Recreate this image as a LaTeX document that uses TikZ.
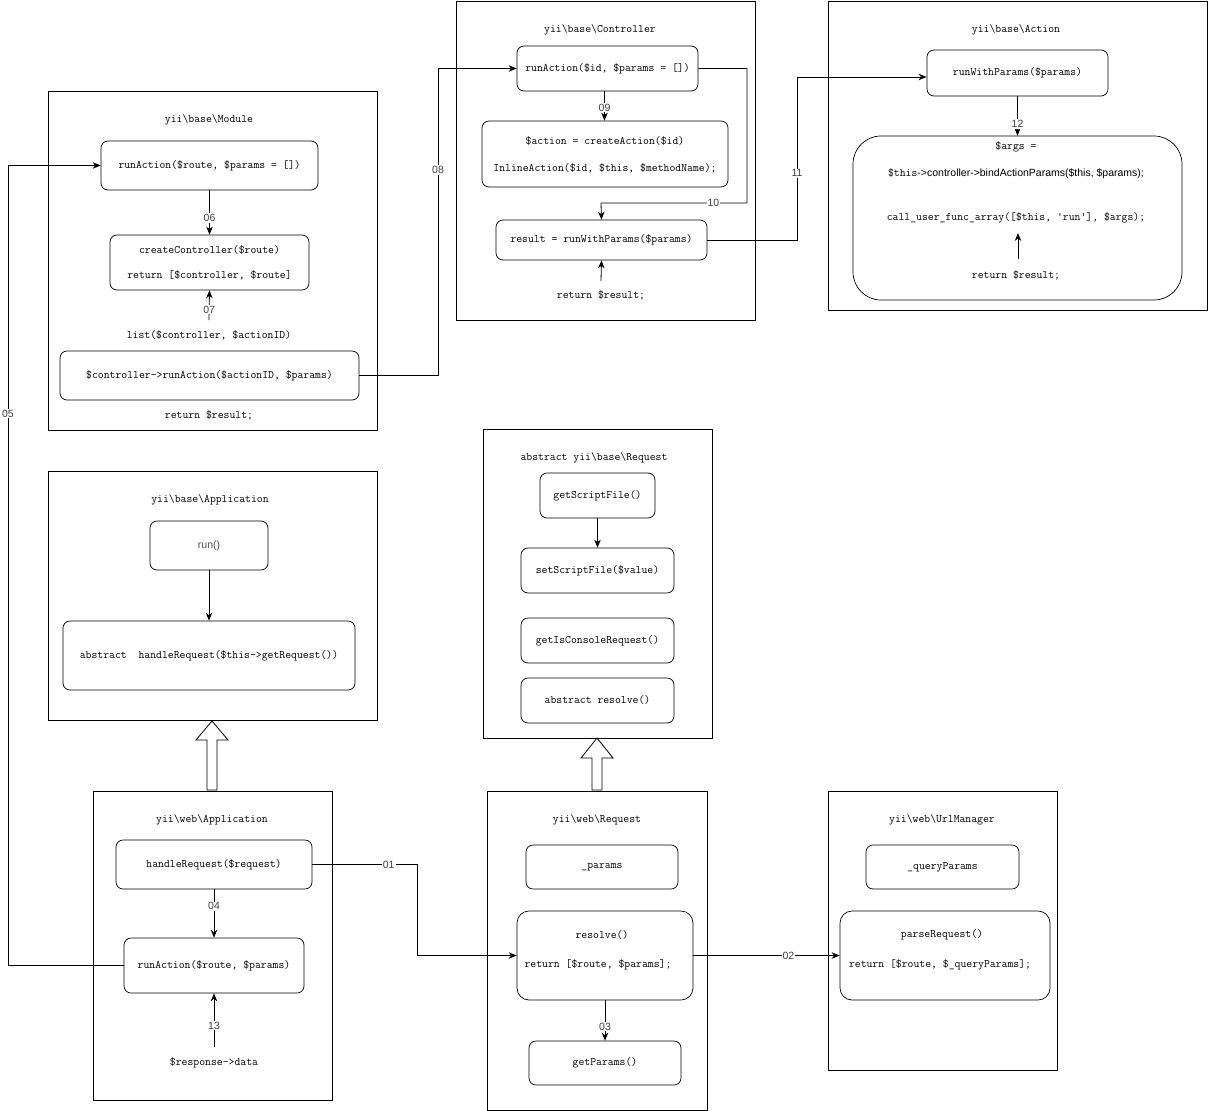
\documentclass[tikz,border=0pt]{standalone}
\usepackage{fontspec}
\setsansfont{Liberation Sans}
\usetikzlibrary{arrows.meta}
\newcommand{\bs}{\textbackslash}
\begin{document}
\begin{tikzpicture}[x=1pt,y=-1pt,
  container/.style={draw, line width=0.8pt},
  mbox/.style={draw, line width=0.7pt, rounded corners=7pt, inner sep=0pt, font=\ttfamily\fontsize{11.4}{13}\selectfont},
  txt/.style={inner sep=0pt, font=\ttfamily\fontsize{11.4}{13}\selectfont},
  sftxt/.style={inner sep=0pt, font=\sffamily\fontsize{10.5}{12}\selectfont, text=black!80},
  lbl/.style={fill=white, inner sep=1pt, font=\sffamily\fontsize{10.5}{12}\selectfont, text=black!75},
  arr/.style={-{Stealth[length=8pt,width=6.5pt]}, line width=0.8pt},
  conn/.style={line width=0.8pt},
  inherit/.style={draw, line width=0.8pt, fill=white}]
\useasboundingbox (0,0) rectangle (1208,1111);

% ===== containers =====
\draw[container] (48,91) rectangle (377,430);
\draw[container] (456,1) rectangle (755,320);
\draw[container] (828,1) rectangle (1207,310);
\draw[container] (48,471) rectangle (377,720);
\draw[container] (483,429) rectangle (712,738);
\draw[container] (93,791) rectangle (332,1100);
\draw[container] (487,791) rectangle (707,1110);
\draw[container] (828,791) rectangle (1057,1070);

% ===== yii\base\Module =====
\node[txt] (mTitle) at (209,120) {yii\bs base\bs Module};
\node[mbox, minimum width=217pt, minimum height=49pt] (mRun) at (209.5,165.5) {runAction(\$route, \$params = [])};
\node[mbox, minimum width=199pt, minimum height=55pt] (mCreate) at (209.5,262.5) {};
\node[txt] (mCreateA) at (209.5,250) {createController(\$route)};
\node[txt] (mCreateB) at (209.5,275) {return [\$controller, \$route]};
\node[txt] (mList) at (209,335) {list(\$controller, \$actionID)};
\coordinate (mListTop) at (209,320);
\node[mbox, minimum width=299pt, minimum height=49pt] (mCtrl) at (209.5,375.5) {\$controller->runAction(\$actionID, \$params)};
\node[txt] (mRet) at (209,415) {return \$result;};

\draw[arr] (mRun.south) -- node[lbl, pos=0.62] {06} (mCreate.north);
\draw[arr] (mListTop) -- node[lbl, pos=0.35] {07} (mCreate.south);

% ===== yii\base\Controller =====
\node[txt] (cTitle) at (600,30) {yii\bs base\bs Controller};
\node[mbox, minimum width=181pt, minimum height=45pt] (cRun) at (607.5,68.5) {runAction(\$id, \$params = [])};
\node[mbox, minimum width=246pt, minimum height=66pt] (cAction) at (605,154) {};
\node[txt] (cActionA) at (605,141) {\$action = createAction(\$id)};
\node[txt] (cActionB) at (605,168) {InlineAction(\$id, \$this, \$methodName);};
\node[mbox, minimum width=211pt, minimum height=40pt] (cResult) at (601.5,240) {result = runWithParams(\$params)};
\node[txt] (cRet) at (601,295) {return \$result;};
\coordinate (cRetTop) at (601,281);

\draw[arr] ([xshift=-3pt]cRun.south) -- node[lbl, pos=0.55] {09} ([xshift=-3pt]cRun.south |- cAction.north);
\coordinate (c10a) at (747,68.5);
\coordinate (c10b) at (747,203);
\coordinate (c10c) at (601,203);
\draw[arr] (cRun.east) -- (c10a) -- (c10b) -- node[lbl, pos=0.23] {10} (c10c) -- (cResult.north);
\draw[arr] (cRetTop) -- (cResult.south);

% ===== yii\base\Action =====
\node[txt] (aTitle) at (1016,30) {yii\bs base\bs Action};
\node[mbox, minimum width=181pt, minimum height=46pt] (aRun) at (1017.5,73) {runWithParams(\$params)};
\node[mbox, rounded corners=28pt, minimum width=329pt, minimum height=164pt] (aArgs) at (1017.5,218) {};
\node[txt] (aArgsA) at (1016,147) {\$args =};
\node[txt] (aArgsB) at (1016,174) {\$this\textsf{\fontsize{10.5}{12}\selectfont ->controller->bindActionParams(\$this, \$params);}};
\node[txt] (aArgsC) at (1016,218) {call\_user\_func\_array([\$this, 'run'], \$args);};
\node[txt] (aArgsD) at (1016,275) {return \$result;};
\coordinate (aRetTop) at (1018,259);
\coordinate (aCallBot) at (1018,233);
\draw[arr] (aRun.south) -- node[lbl, pos=0.7] {12} (aRun.south |- aArgs.north);
\draw[arr] (aRetTop) -- (aCallBot);

% ===== yii\base\Application =====
\node[txt] (baTitle) at (210,500) {yii\bs base\bs Application};
\node[mbox, minimum width=118pt, minimum height=49pt, font=\sffamily\fontsize{10.5}{12}\selectfont, text=black!70] (baRun) at (209,545.5) {run()};
\node[mbox, minimum width=292pt, minimum height=69pt] (baHandle) at (209,655.5) {abstract\ \ handleRequest(\$this->getRequest())};
\draw[arr] (baRun.south) -- (baHandle.north);

% ===== abstract yii\base\Request =====
\node[txt] (brTitle) at (594,458) {abstract yii\bs base\bs Request};
\node[mbox, minimum width=115pt, minimum height=45pt] (brGet) at (597.5,495.5) {getScriptFile()};
\node[mbox, minimum width=153pt, minimum height=45pt] (brSet) at (597.5,570.5) {setScriptFile(\$value)};
\node[mbox, minimum width=153pt, minimum height=45pt] (brCon) at (597.5,640.5) {getIsConsoleRequest()};
\node[mbox, minimum width=153pt, minimum height=45pt] (brRes) at (597.5,700.5) {abstract resolve()};
\draw[arr] (brGet.south) -- (brSet.north);

% ===== yii\web\Application =====
\node[txt] (waTitle) at (212,820) {yii\bs web\bs Application};
\node[mbox, minimum width=196pt, minimum height=49pt] (waHandle) at (214,864.5) {handleRequest(\$request)};
\node[mbox, minimum width=180pt, minimum height=55pt] (waRun) at (214,965.5) {runAction(\$route, \$params)};
\node[txt] (waResp) at (214,1063) {\$response->data};
\coordinate (waRespTop) at (214,1047);
\draw[arr] (waHandle.south) -- node[lbl, pos=0.35] {04} (waRun.north);
\draw[arr] (waRespTop) -- node[lbl, pos=0.4] {13} (waRun.south);

% ===== yii\web\Request =====
\node[txt] (wrTitle) at (597,820) {yii\bs web\bs Request};
\node[mbox, minimum width=152pt, minimum height=44pt] (wrParams) at (602,867) {\_params};
\node[mbox, rounded corners=12pt, minimum width=176pt, minimum height=89pt] (wrResolve) at (605,955.5) {};
\node[txt] (wrResolveA) at (602,935) {resolve()};
\node[txt] (wrResolveB) at (598,965) {return [\$route, \$params];};
\node[mbox, minimum width=152pt, minimum height=44pt] (wrGet) at (605,1063) {getParams()};
\draw[arr] (wrResolve.south) -- node[lbl, pos=0.65] {03} (wrGet.north);

% ===== yii\web\UrlManager =====
\node[txt] (uTitle) at (942,820) {yii\bs web\bs UrlManager};
\node[mbox, minimum width=153pt, minimum height=44pt] (uQuery) at (942.5,867) {\_queryParams};
\node[mbox, rounded corners=12pt, minimum width=210pt, minimum height=89pt] (uParse) at (945,955.5) {};
\node[txt] (uParseA) at (942,935) {parseRequest()};
\node[txt] (uParseB) at (940,965) {return [\$route, \$\_queryParams];};

% ===== long connectors =====
\coordinate (p01a) at (417,864.5);
\coordinate (p01b) at (417,955.5);
\draw[arr] (waHandle.east) -- node[lbl, pos=0.73] {01} (p01a) -- (p01b) -- (wrResolve.west);

\draw[arr] (wrResolve.east) -- node[lbl, pos=0.65] {02} (uParse.west);

\coordinate (p05a) at (8,965.5);
\coordinate (p05b) at (8,165.5);
\draw[arr] (waRun.west) -- (p05a) -- node[lbl, pos=0.69] {05} (p05b) -- (mRun.west);

\coordinate (p08a) at (438,375.5);
\coordinate (p08b) at (438,68.5);
\draw[arr] (mCtrl.east) -- (p08a) -- node[lbl, pos=0.67] {08} (p08b) -- (cRun.west);

\coordinate (p11a) at (797,240);
\coordinate (p11b) at (797,77);
\coordinate (p11c) at (926.5,77);
\draw[arr] (cResult.east) -- (p11a) -- node[lbl, pos=0.41] {11} (p11b) -- (p11c);

% ===== inheritance arrows =====
\draw[inherit] (207,790) -- (207,740) -- (196,740) -- (212,721) -- (228,740) -- (217,740) -- (217,790) -- cycle;
\draw[inherit] (592,790) -- (592,758) -- (581,758) -- (597,738) -- (613,758) -- (602,758) -- (602,790) -- cycle;
\end{tikzpicture}
\end{document}
